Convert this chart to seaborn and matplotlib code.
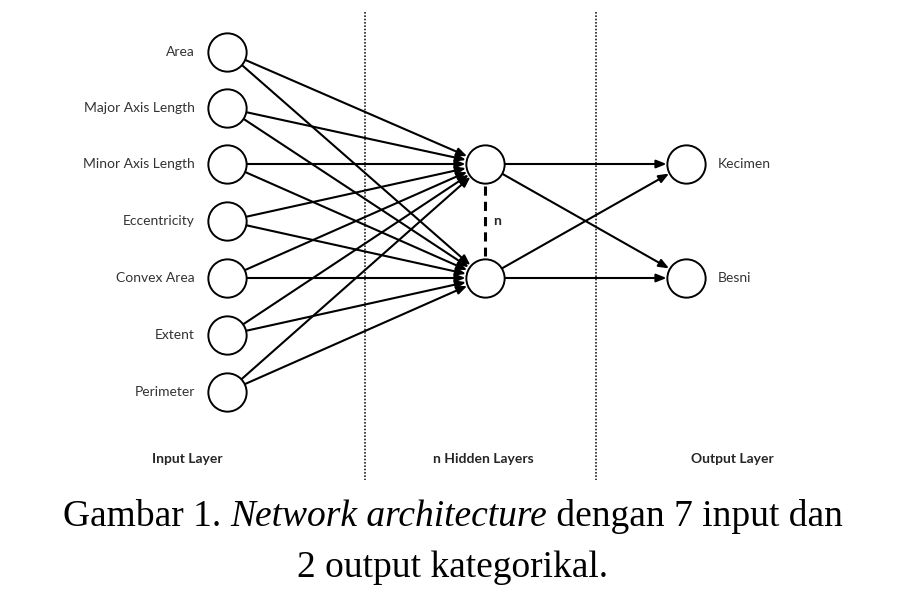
import matplotlib
matplotlib.use("Agg")
import matplotlib.pyplot as plt
import seaborn as sns
import pandas as pd

# network description
input_names = ["Area", "Major Axis Length", "Minor Axis Length", "Eccentricity",
               "Convex Area", "Extent", "Perimeter"]
output_names = ["Kecimen", "Besni"]
layer_titles = ["Input Layer", "n Hidden Layers", "Output Layer"]
n_hidden = 2

# layout in pixel units
x_in, x_hid, x_out = 227, 485, 686
y_in = [52, 108, 164, 221, 278, 335, 392]
y_hid = [164, 278]
y_out = [164, 278]

sns.set_theme(style="white")
plt.rcParams["font.family"] = ["Lato", "DejaVu Sans"]

fig = plt.figure(figsize=(9.15, 6.06), dpi=100)
ax = fig.add_axes([0, 0, 1, 1])
ax.set_xlim(0, 915)
ax.set_ylim(606, 0)
ax.axis("off")


def link(x0, y0, x1, y1):
    ax.annotate("", xy=(x1, y1), xytext=(x0, y0),
                arrowprops=dict(arrowstyle="-|>,head_length=0.5,head_width=0.2",
                                color="black", lw=1.5,
                                shrinkA=14, shrinkB=14), zorder=1)


for yi in y_in:
    for yh in y_hid:
        link(x_in, yi, x_hid, yh)
for yh in y_hid:
    for yo in y_out:
        link(x_hid, yh, x_out, yo)

nodes = pd.DataFrame({
    "x": [x_in] * len(y_in) + [x_hid] * n_hidden + [x_out] * len(y_out),
    "y": y_in + y_hid + y_out,
})
sns.scatterplot(data=nodes, x="x", y="y", s=760, color="white",
                edgecolor="black", linewidth=1.4, ax=ax, zorder=3, legend=False)

for name, y in zip(input_names, y_in):
    ax.text(x_in - 32, y, name, ha="right", va="center", fontsize=10, color="#333333")
for name, y in zip(output_names, y_out):
    ax.text(x_out + 32, y, name, ha="left", va="center", fontsize=10, color="#333333")

ax.plot([x_hid, x_hid], [y_hid[0] + 22, y_hid[1] - 22], color="black", lw=2.2,
        ls=(0, (3, 2)), zorder=2)
ax.text(x_hid + 12, 221, "n", ha="center", va="center", fontsize=10, fontweight="bold")

for xv in [365, 596]:
    ax.plot([xv, xv], [12, 480], color="#222222", lw=1.2, ls=(0, (1, 1)), zorder=0)

for xt, t in zip([187, 483, 732], layer_titles):
    ax.text(xt, 459, t, ha="center", va="center", fontsize=10, fontweight="bold")

serif = ["Liberation Serif", "DejaVu Serif"]
cap_size = 27
line = [("Gambar 1. ", "normal"), ("Network architecture", "italic"),
        (" dengan 7 input dan", "normal")]
fig.canvas.draw()
rend = fig.canvas.get_renderer()
widths = []
objs = []
for s, st in line:
    o = ax.text(0, 517, s, ha="left", va="center", fontsize=cap_size,
                family=serif, style=st, color="black")
    widths.append(o.get_window_extent(rend).width)
    objs.append(o)
x = 453 - sum(widths) / 2
for o, w in zip(objs, widths):
    o.set_x(x)
    x += w
ax.text(453, 568, "2 output kategorikal.", ha="center", va="center",
        fontsize=cap_size, family=serif, color="black")

fig.savefig("out.png", dpi=100)
